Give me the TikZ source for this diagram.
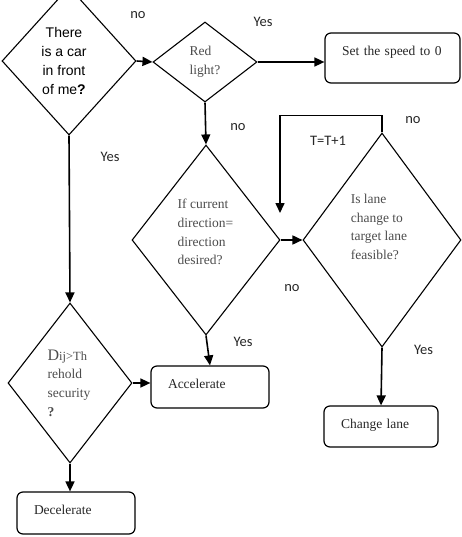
\documentclass[tikz,border=0pt]{standalone}
\usepackage{fontspec}
\setmainfont{Liberation Serif}
\newfontfamily\arialfont{Liberation Sans}
\newfontfamily\labelfont{Carlito}
\usetikzlibrary{shapes.geometric,arrows.meta}

\tikzset{
  decision/.style={draw, shape=diamond, line width=1.1pt, inner sep=0pt},
  action/.style={draw, rounded corners=6pt, line width=1.2pt, inner xsep=17pt, align=left,
    text depth=6pt, font=\fontsize{13.5}{18.7}\selectfont, text=black!85},
  qtext/.style={align=left, inner sep=0pt, font=\fontsize{13.5}{18.7}\selectfont, text=black!70},
  arr/.style={line width=1.6pt, -{Triangle[length=10pt,width=9pt]}},
  lbl/.style={font=\labelfont\fontsize{14.5}{17}\selectfont, text=black!85}
}

\begin{document}
\begin{tikzpicture}[x=1pt, y=-1pt]
    \useasboundingbox (0,0) rectangle (461,537);
    % decisions
    \node[decision, minimum width=134pt, minimum height=148pt] (car) at (69, 61) {};
    \node[decision, minimum width=104pt, minimum height=80pt] (red) at (205, 62) {};
    \node[decision, minimum width=148pt, minimum height=190pt] (dir) at (206, 240) {};
    \node[decision, minimum width=158pt, minimum height=214pt] (lane) at (382, 240) {};
    \node[decision, minimum width=124pt, minimum height=160pt] (dij) at (70, 383) {};
    % questions
    \node[align=center, inner sep=0pt, font=\arialfont\fontsize{14}{19}\selectfont] (cartxt) at (64, 61) {There\\is a car\\in front\\of me\textbf{?}};
    \node[qtext] (redtxt) at (205, 62) {Red\\light?};
    \node[qtext] (dirtxt) at (205.5, 232) {If current\\direction=\\direction\\desired?};
    \node[qtext] (lanetxt) at (379, 227) {Is lane\\change to\\target lane\\feasible?};
    \node[qtext] (dijtxt) at (69, 383) {{\fontsize{16}{18}\selectfont D}{\fontsize{12.5}{14}\selectfont ij>Th}\\rehold\\security\\\textbf{?}};
    % actions
    \node[action, text width=101pt, minimum height=50pt, text depth=14pt] (speed) at (392.5, 58) {Set the speed to 0};
    \node[action, text width=84pt, minimum height=42pt] (accel) at (210, 387) {Accelerate};
    \node[action, text width=80pt, minimum height=41pt] (change) at (381, 426.5) {Change lane};
    \node[action, text width=84pt, minimum height=42pt] (dec) at (76, 513) {Decelerate};
    \coordinate (back) at (280, 213);
    % flow
    \draw [arr] (car.east) to node[lbl, xshift=-6.5pt, yshift=46.5pt] {no} (red.west);
    \draw [arr] (red.east) to node[lbl, xshift=-28pt, yshift=40pt] {Yes} (red.east -| speed.west);
    \draw [arr] (red.south) to node[lbl, xshift=32.5pt, yshift=-4pt] {no} (dir.north);
    \draw [arr] (dir.east) to node[lbl, xshift=0.5pt, yshift=-48pt] {no} (lane.west);
    \draw [arr] (lane.north) -- node[lbl, xshift=31pt, yshift=3.5pt] {no} ++(0,-17) -| node[lbl, xshift=48pt, yshift=-25pt] {T=T+1} (back);
    \draw [arr] (dir.south) to node[lbl, xshift=35pt, yshift=8.5pt] {Yes} (accel.north);
    \draw [arr] (lane.south) to node[lbl, xshift=42pt, yshift=26.5pt] {Yes} (change.north);
    \draw [arr] (car.south) to node[lbl, xshift=40.5pt, yshift=62pt] {Yes} (dij.north);
    \draw [arr] (dij.east) to (dij.east -| accel.west);
    \draw [arr] (dij.south) to (dij.south |- dec.north);
\end{tikzpicture}
\end{document}
